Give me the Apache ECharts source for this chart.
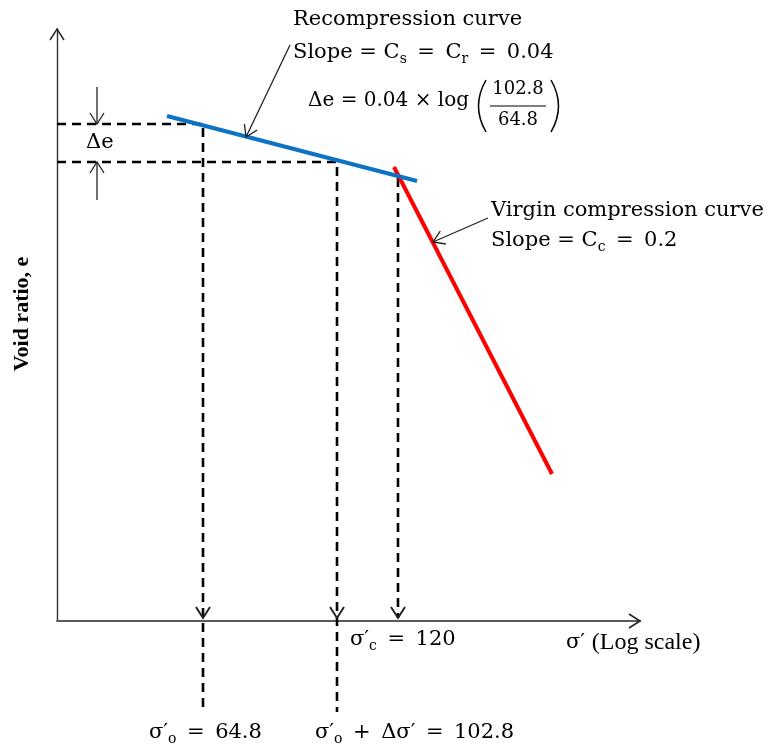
<!DOCTYPE html>
<html><head><meta charset="utf-8">
<script src="https://cdn.jsdelivr.net/npm/echarts@6/dist/echarts.min.js"></script>
<style>html,body{margin:0;padding:0;background:#fff}#c{width:772px;height:750px}</style>
</head><body><div id="c"></div>
<script>
// ---- values read from the schematic (x: position along log σ' axis, y: void ratio e, schematic units) ----
const recompressionX = [110, 360];
const recompressionE = [505, 440];
const virginX = [337, 495];
const virginE = [454, 147];
const stressX = [146, 280, 341];                 // σ'o, σ'o+Δσ', σ'c
const stressNames = ['σ′{s|o}', 'σ′{s|o} + Δσ′', 'σ′{s|c}'];
const stressValues = [64.8, 102.8, 120];
const voidE = [497, 459];                          // e at σ'o and at σ'o+Δσ'
const eAtPc = 443;                                 // e where σ'c meets recompression line
const belowAxisE = -91;                            // how far the guide lines run below the axis
const Cr = 0.04, Cc = 0.2;
const axisMaxX = 583, axisMaxE = 592;

const MATH = '"DejaVu Serif", serif';
const TIMES = '"Liberation Serif", serif';
const SUB = {fontFamily: MATH, fontSize: 14, padding: [12, 0, 0, 0], fill: '#000'};
const EQ = '\u2002=\u2002';

const chart = echarts.init(document.getElementById('c'), null, {renderer: 'canvas'});

const dash = {color: '#000', width: 2.6, type: [9, 6]};
const guide1 = [[0, voidE[0]], [stressX[0], voidE[0]], [stressX[0], belowAxisE]];
const guide2 = [[0, voidE[1]], [stressX[1], voidE[1]], [stressX[1], belowAxisE]];
const guide3 = [[stressX[2], eAtPc], [stressX[2], 3]];

// arrows: [x1, y1, x2(tip), y2(tip), drawShaft, lineWidth]
const arrows = [
  [40, 534, 40, voidE[0], 1, 1.3],
  [40, 421, 40, voidE[1], 1, 1.3],
  [233, 576, 189, 484, 1, 1.3],
  [431, 403, 376, 379, 1, 1.3],
  [stressX[0], 40, stressX[0], 3, 0, 2],
  [stressX[1], 40, stressX[1], 3, 0, 2],
  [stressX[2], 40, stressX[2], 3, 0, 2],
  [0, 550, 0, axisMaxE, 0, 1.4],
  [540, 0, axisMaxX, 0, 0, 1.6]
];

const notes = [
  {at: [236, 601], text: 'Recompression curve'},
  {at: [236, 568], text: 'Slope = C{s|s}' + EQ + 'C{s|r}' + EQ + Cr},
  {at: [251, 520], text: 'Δe = ' + Cr + ' × log', size: 20},
  {at: [434, 410], text: 'Virgin compression curve'},
  {at: [434, 380], text: 'Slope = C{s|c}' + EQ + Cc},
  {at: [293, -19], text: stressNames[2] + EQ + stressValues[2]},
  {at: [92, -112], text: stressNames[0] + EQ + stressValues[0]},
  {at: [258, -112], text: stressNames[1].replace(' + ', '\u2002+\u2002') + EQ + stressValues[1]},
  {at: [29, 478], text: 'Δe'},
  {at: [509, -22], text: '{g|σ′} {t|(Log scale)}'},
  {at: [-35, 307], text: 'Void ratio, e', font: TIMES, size: 22, weight: 'bold', rotation: Math.PI / 2, align: 'center'}
];

function chevron(p, q, len, half) {
  const dx = q[0] - p[0], dy = q[1] - p[1];
  const d = Math.hypot(dx, dy), ux = dx / d, uy = dy / d;
  const bx = q[0] - ux * len, by = q[1] - uy * len;
  return [[bx - uy * half, by + ux * half], [q[0], q[1]], [bx + uy * half, by - ux * half]];
}

const option = {
  backgroundColor: '#fff',
  animation: false,
  grid: {left: 57, right: 132, top: 29, bottom: 129, containLabel: false, outerBoundsMode: 'none'},
  xAxis: {
    type: 'value', min: 0, max: axisMaxX,
    axisLine: {show: true, lineStyle: {color: '#5a5a5a', width: 2}},
    axisTick: {show: false}, axisLabel: {show: false}, splitLine: {show: false}
  },
  yAxis: {
    type: 'value', min: 0, max: axisMaxE,
    axisLine: {show: true, lineStyle: {color: '#333', width: 1.4}},
    axisTick: {show: false}, axisLabel: {show: false}, splitLine: {show: false}
  },
  series: [
    {type: 'line', data: guide1, symbol: 'none', clip: false, lineStyle: dash, silent: true, z: 1},
    {type: 'line', data: guide2, symbol: 'none', clip: false, lineStyle: dash, silent: true, z: 1},
    {type: 'line', data: guide3, symbol: 'none', clip: false, lineStyle: dash, silent: true, z: 1},
    {type: 'line', name: 'Recompression curve', data: recompressionX.map((x, i) => [x, recompressionE[i]]),
      symbol: 'none', lineStyle: {color: '#0B72C4', width: 4}, z: 3},
    {type: 'line', name: 'Virgin compression curve', data: virginX.map((x, i) => [x, virginE[i]]),
      symbol: 'none', lineStyle: {color: '#FF0000', width: 4}, z: 2},
    {
      type: 'custom', data: arrows, clip: false, silent: true, z: 4,
      encode: {x: [0, 2], y: [1, 3]},
      renderItem: (params, api) => {
        const p = api.coord([api.value(0), api.value(1)]);
        const q = api.coord([api.value(2), api.value(3)]);
        const w = api.value(5);
        const children = [];
        if (api.value(4)) children.push({type: 'line', shape: {x1: p[0], y1: p[1], x2: q[0], y2: q[1]}, style: {stroke: '#222', lineWidth: w}});
        children.push({type: 'polyline', shape: {points: chevron(p, q, 11, 7)}, style: {stroke: '#222', lineWidth: w, fill: null}});
        return {type: 'group', children};
      }
    },
    {
      type: 'custom', data: notes.map(n => n.at), clip: false, silent: true, z: 5,
      encode: {x: 0, y: 1},
      renderItem: (params, api) => {
        const n = notes[params.dataIndex];
        const p = api.coord([api.value(0), api.value(1)]);
        const size = n.size || 21;
        return {
          type: 'text', x: p[0], y: p[1], rotation: n.rotation || 0,
          style: {
            text: n.text, fill: '#000', fontFamily: n.font || MATH, fontSize: size,
            fontWeight: n.weight || 'normal', align: n.align || 'left', verticalAlign: 'middle',
            lineHeight: size + 4,
            rich: {
              s: SUB,
              g: {fontFamily: MATH, fontSize: 21, fill: '#000'},
              t: {fontFamily: TIMES, fontSize: 24, fill: '#000'}
            }
          }
        };
      }
    },
    {
      type: 'custom', data: [[461, 515]], clip: false, silent: true, z: 5,
      encode: {x: 0, y: 1},
      renderItem: (params, api) => {
        const c = api.coord([api.value(0), api.value(1)]);
        const cx = c[0], cy = c[1];
        const ts = {fontFamily: MATH, fontSize: 18, fill: '#000', align: 'center', verticalAlign: 'middle'};
        return {type: 'group', children: [
          {type: 'text', x: cx, y: cy - 17, style: Object.assign({text: String(stressValues[1])}, ts)},
          {type: 'line', shape: {x1: cx - 28, y1: cy, x2: cx + 28, y2: cy}, style: {stroke: '#000', lineWidth: 1.2}},
          {type: 'text', x: cx, y: cy + 14, style: Object.assign({text: String(stressValues[0])}, ts)},
          {type: 'bezierCurve', shape: {x1: cx - 32, y1: cy - 26, x2: cx - 32, y2: cy + 26, cpx1: cx - 47, cpy1: cy}, style: {stroke: '#000', lineWidth: 1.5, fill: null}},
          {type: 'bezierCurve', shape: {x1: cx + 33, y1: cy - 26, x2: cx + 33, y2: cy + 26, cpx1: cx + 48, cpy1: cy}, style: {stroke: '#000', lineWidth: 1.5, fill: null}}
        ]};
      }
    }
  ]
};
chart.setOption(option);
</script></body></html>
